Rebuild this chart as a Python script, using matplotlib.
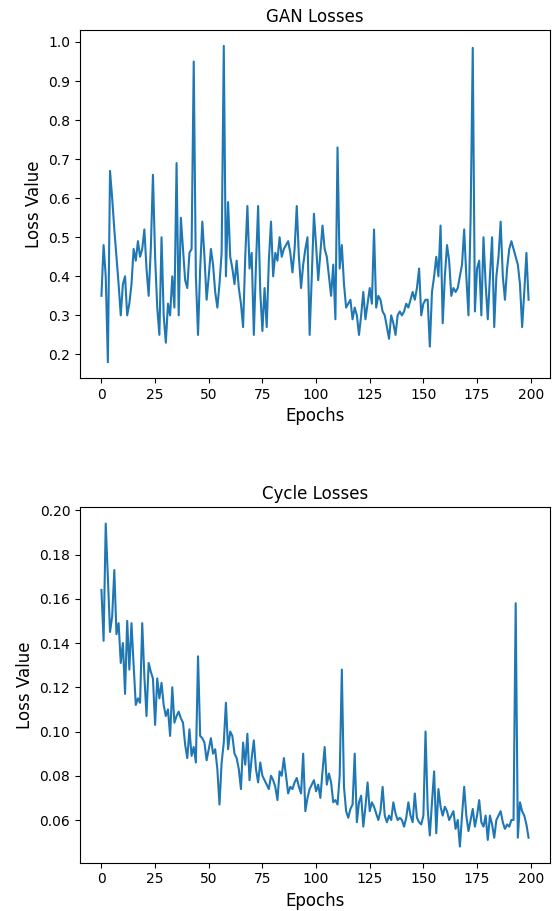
import numpy as np
import matplotlib
matplotlib.use("Agg")
import matplotlib.pyplot as plt

# ── values (one per epoch, 0..199) ────────────────────────────────────────────
gan_losses = [
    0.35, 0.48, 0.40, 0.18, 0.67, 0.60, 0.52, 0.45, 0.38, 0.30,
    0.38, 0.40, 0.30, 0.33, 0.38, 0.47, 0.44, 0.49, 0.45, 0.47,
    0.52, 0.42, 0.35, 0.47, 0.66, 0.45, 0.32, 0.25, 0.50, 0.30,
    0.23, 0.33, 0.30, 0.40, 0.32, 0.69, 0.30, 0.55, 0.47, 0.39,
    0.37, 0.46, 0.47, 0.95, 0.40, 0.25, 0.42, 0.54, 0.45, 0.34,
    0.40, 0.47, 0.43, 0.36, 0.32, 0.38, 0.46, 0.99, 0.40, 0.59,
    0.45, 0.42, 0.38, 0.44, 0.37, 0.33, 0.27, 0.45, 0.58, 0.42,
    0.46, 0.25, 0.43, 0.58, 0.36, 0.26, 0.37, 0.27, 0.44, 0.54,
    0.40, 0.46, 0.44, 0.50, 0.45, 0.47, 0.48, 0.49, 0.46, 0.41,
    0.47, 0.58, 0.45, 0.37, 0.43, 0.47, 0.50, 0.25, 0.40, 0.56,
    0.48, 0.39, 0.46, 0.53, 0.47, 0.45, 0.40, 0.35, 0.43, 0.29,
    0.73, 0.42, 0.48, 0.38, 0.32, 0.33, 0.34, 0.29, 0.32, 0.30,
    0.25, 0.30, 0.36, 0.29, 0.33, 0.37, 0.33, 0.52, 0.32, 0.35,
    0.34, 0.31, 0.30, 0.27, 0.24, 0.30, 0.28, 0.25, 0.30, 0.31,
    0.30, 0.31, 0.33, 0.32, 0.34, 0.36, 0.34, 0.37, 0.42, 0.30,
    0.33, 0.34, 0.34, 0.22, 0.36, 0.40, 0.45, 0.40, 0.53, 0.28,
    0.40, 0.48, 0.44, 0.35, 0.37, 0.36, 0.37, 0.40, 0.43, 0.52,
    0.40, 0.30, 0.55, 0.985, 0.31, 0.42, 0.44, 0.30, 0.50, 0.38,
    0.29, 0.40, 0.50, 0.27, 0.40, 0.45, 0.54, 0.40, 0.34, 0.42,
    0.47, 0.49, 0.47, 0.45, 0.43, 0.38, 0.27, 0.36, 0.46, 0.34,
]

cycle_losses = [
    0.164, 0.141, 0.194, 0.170, 0.145, 0.152, 0.173, 0.144, 0.149, 0.131,
    0.140, 0.117, 0.150, 0.128, 0.149, 0.130, 0.112, 0.115, 0.113, 0.149,
    0.125, 0.107, 0.131, 0.127, 0.124, 0.103, 0.124, 0.115, 0.122, 0.112,
    0.107, 0.110, 0.098, 0.120, 0.104, 0.107, 0.109, 0.106, 0.104, 0.094,
    0.088, 0.101, 0.089, 0.093, 0.086, 0.134, 0.098, 0.097, 0.095, 0.087,
    0.092, 0.097, 0.090, 0.092, 0.083, 0.067, 0.086, 0.095, 0.113, 0.092,
    0.100, 0.098, 0.090, 0.088, 0.083, 0.074, 0.095, 0.085, 0.099, 0.078,
    0.088, 0.096, 0.083, 0.077, 0.086, 0.080, 0.078, 0.076, 0.074, 0.080,
    0.078, 0.075, 0.069, 0.082, 0.080, 0.088, 0.080, 0.072, 0.075, 0.074,
    0.077, 0.079, 0.075, 0.072, 0.090, 0.064, 0.070, 0.074, 0.076, 0.078,
    0.073, 0.076, 0.070, 0.082, 0.093, 0.076, 0.081, 0.077, 0.068, 0.069,
    0.067, 0.080, 0.128, 0.075, 0.064, 0.061, 0.065, 0.067, 0.090, 0.059,
    0.068, 0.071, 0.057, 0.066, 0.077, 0.064, 0.068, 0.066, 0.063, 0.060,
    0.064, 0.075, 0.062, 0.059, 0.062, 0.060, 0.068, 0.063, 0.060, 0.061,
    0.060, 0.057, 0.061, 0.068, 0.062, 0.059, 0.072, 0.061, 0.059, 0.058,
    0.062, 0.100, 0.065, 0.053, 0.068, 0.082, 0.054, 0.074, 0.066, 0.062,
    0.066, 0.064, 0.060, 0.062, 0.064, 0.056, 0.060, 0.048, 0.062, 0.075,
    0.062, 0.055, 0.060, 0.065, 0.057, 0.062, 0.069, 0.059, 0.057, 0.062,
    0.051, 0.062, 0.058, 0.052, 0.060, 0.062, 0.064, 0.059, 0.056, 0.058,
    0.057, 0.060, 0.060, 0.158, 0.052, 0.068, 0.064, 0.062, 0.058, 0.052,
]

epochs = np.arange(len(gan_losses))

fig = plt.figure(figsize=(5.6, 9.11), dpi=100)

# ── GAN losses ───────────────────────────────────────────────────────────────
ax1 = fig.add_axes([0.143, 0.585, 0.839, 0.382])
ax1.plot(epochs, gan_losses, color='#1f77b4', linewidth=1.5)
ax1.set_title('GAN Losses')
ax1.set_xlabel('Epochs', fontsize=12)
ax1.set_ylabel('Loss Value', fontsize=12)
ax1.set_xticks([0, 25, 50, 75, 100, 125, 150, 175, 200])

# ── Cycle losses ─────────────────────────────────────────────────────────────
ax2 = fig.add_axes([0.143, 0.053, 0.839, 0.390])
ax2.plot(epochs, cycle_losses, color='#1f77b4', linewidth=1.5)
ax2.set_title('Cycle Losses')
ax2.set_xlabel('Epochs', fontsize=12)
ax2.set_ylabel('Loss Value', fontsize=12)
ax2.set_xticks([0, 25, 50, 75, 100, 125, 150, 175, 200])

fig.savefig('out.png', dpi=100)
